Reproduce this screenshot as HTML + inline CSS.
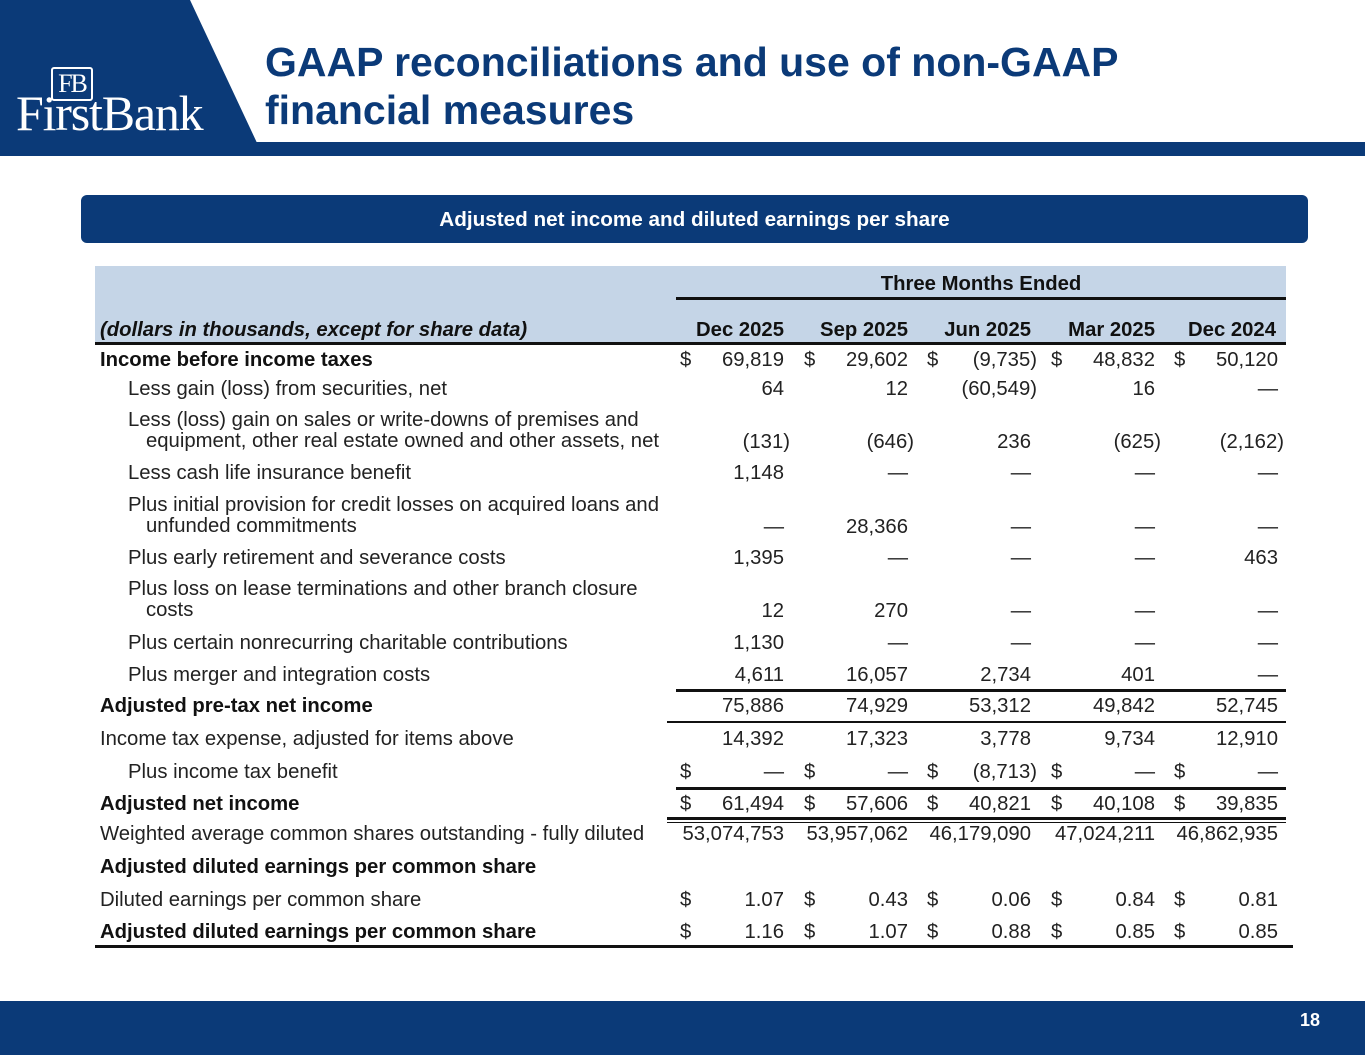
<!DOCTYPE html>
<html><head><meta charset="utf-8"><style>
body{margin:0;width:1365px;height:1055px;position:relative;background:#fff;font-family:"Liberation Sans",Arial,sans-serif;overflow:hidden}
.a{position:absolute}
.t{position:absolute;font-size:20.3px;color:#222;white-space:nowrap;line-height:22px}
.b{font-weight:bold;color:#111}
.r{text-align:right}
.ln{position:absolute;background:#111}
</style></head><body>
<div class="a" style="left:0;top:0;width:1365px;height:156px;background:#fff"></div>
<div class="a" style="left:0;top:142px;width:1365px;height:14px;background:#0b3a78"></div>
<svg class="a" style="left:0;top:0" width="260" height="156"><polygon points="0,0 190,0 258,145 258,156 0,156" fill="#0b3a78"/></svg>
<div class="a" style="left:51px;top:67px;width:38px;height:30px;border:2px solid #fff;border-radius:3px;color:#fff;font-family:'Liberation Serif',serif;font-size:26px;line-height:30px;text-align:center;letter-spacing:-2px">FB</div>
<div class="a" style="left:16px;top:90px;color:#fff;font-family:'Liberation Serif',serif;font-size:50px;line-height:46px;letter-spacing:-1.2px">FirstBank</div>
<div class="a" style="left:265px;top:38px;color:#0b3a78;font-size:41px;font-weight:bold;line-height:48px">GAAP reconciliations and use of non-GAAP<br>financial measures</div>
<div class="a" style="left:81px;top:195px;width:1227px;height:48px;background:#0b3a78;border-radius:6px;color:#fff;font-weight:bold;font-size:20.7px;line-height:50px;text-align:center">Adjusted net income and diluted earnings per share</div>
<div class="a" style="left:95px;top:266px;width:1191px;height:78px;background:#c5d5e7"></div>
<div class="t b" style="left:676px;top:273px;width:610px;text-align:center">Three Months Ended</div>
<div class="ln" style="left:676px;top:297px;width:610px;height:3px"></div>
<div class="t b" style="left:100px;top:319px;font-style:italic">(dollars in thousands, except for share data)</div>
<div class="ln" style="left:95px;top:342px;width:1191px;height:3px"></div>
<div class="ln" style="left:676px;top:689px;width:610px;height:3px"></div>
<div class="ln" style="left:667px;top:721px;width:619px;height:2px"></div>
<div class="ln" style="left:676px;top:787px;width:610px;height:3px"></div>
<div class="ln" style="left:667px;top:817px;width:619px;height:3px"></div>
<div class="ln" style="left:667px;top:822px;width:619px;height:1px"></div>
<div class="ln" style="left:95px;top:945px;width:1198px;height:3px"></div>
<div class="a" style="left:0;top:1001px;width:1365px;height:54px;background:#0b3a78"></div>
<div class="a" style="left:1300px;top:1009px;color:#fff;font-weight:bold;font-size:18px;line-height:22px">18</div>
<div id="tbl"></div>
<script>
const periods=["Dec 2025","Sep 2025","Jun 2025","Mar 2025","Dec 2024"];
const labels=["Income before income taxes","Less gain (loss) from securities, net","Less (loss) gain on sales or write-downs of premises and|equipment, other real estate owned and other assets, net","Less cash life insurance benefit","Plus initial provision for credit losses on acquired loans and|unfunded commitments","Plus early retirement and severance costs","Plus loss on lease terminations and other branch closure|costs","Plus certain nonrecurring charitable contributions","Plus merger and integration costs","Adjusted pre-tax net income","Income tax expense, adjusted for items above","Plus income tax benefit","Adjusted net income","Weighted average common shares outstanding - fully diluted","Adjusted diluted earnings per common share","Diluted earnings per common share","Adjusted diluted earnings per common share"];
const values=[["69,819","29,602","(9,735)","48,832","50,120"],["64","12","(60,549)","16","—"],["(131)","(646)","236","(625)","(2,162)"],["1,148","—","—","—","—"],["—","28,366","—","—","—"],["1,395","—","—","—","463"],["12","270","—","—","—"],["1,130","—","—","—","—"],["4,611","16,057","2,734","401","—"],["75,886","74,929","53,312","49,842","52,745"],["14,392","17,323","3,778","9,734","12,910"],["—","—","(8,713)","—","—"],["61,494","57,606","40,821","40,108","39,835"],["53,074,753","53,957,062","46,179,090","47,024,211","46,862,935"],null,["1.07","0.43","0.06","0.84","0.81"],["1.16","1.07","0.88","0.85","0.85"]];
const bold=[1,0,0,0,0,0,0,0,0,1,0,0,1,0,1,0,1];
const indent=[0,1,1,1,1,1,1,1,1,0,0,1,0,0,0,0,0];
const dollar=[1,0,0,0,0,0,0,0,0,0,0,1,1,0,0,1,1];
const rowTop=[349,378,410,462,495,547,579,632,664,695,728,761,793,823,856,889,921];
const colRight=[784,908,1031,1155,1278];
const tbl=document.getElementById('tbl');
function mk(cls,txt,style){const d=document.createElement('div');d.className=cls;d.innerHTML=txt;d.style.cssText=style;tbl.appendChild(d);return d;}
periods.forEach((p,i)=>{const d=mk('t b r',p,`left:${colRight[i]-140}px;top:319px;width:${140+(i==4?-2:0)}px`);

});
labels.forEach((l,r)=>{
  const parts=l.split('|');
  const multi=parts.length>1;
  const top=rowTop[r];
  const html=multi?parts[0]+'<br><span style="padding-left:18px">'+parts[1]+'</span>':l;
  const d=mk('t'+(bold[r]?' b':''),html,`left:${indent[r]?128:100}px;top:${top}px;line-height:${multi?'21px':'22px'}`);
  
  
  const v=values[r]; if(!v) return;
  const vt=multi?top+21:top;
  v.forEach((s,c)=>{
    const neg=s.startsWith('(');
    const right=colRight[c]+(neg?6:0);
    const cell=mk('t r',s,`left:${right-160}px;top:${vt}px;width:160px`);
    
    
    if(dollar[r]){const ds=mk('t','$',`left:${colRight[c]-104}px;top:${vt}px`);
      
      }
  });
});
</script>
</body></html>
